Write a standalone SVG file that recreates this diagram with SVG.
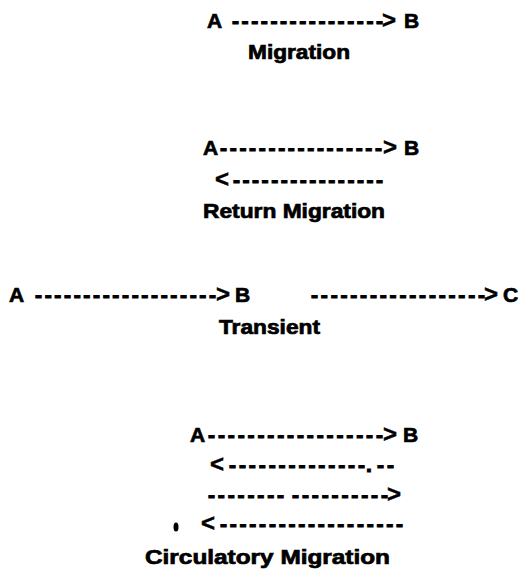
<svg xmlns="http://www.w3.org/2000/svg" width="532" height="570" viewBox="0 0 532 570">
<style>
text{font-family:"Liberation Sans",Arial,Helvetica,sans-serif;font-weight:bold;font-size:20px;fill:#000;stroke:#000;stroke-width:0.7px}
.l{font-size:21px}
.a{font-size:24px;stroke-width:0.5px}
.d{stroke-width:1.1px}
</style>
<rect width="532" height="570" fill="#fff"/>
<g id="migration">
<text class="l" x="207" y="28">A</text>
<text class="l" x="404" y="28">B</text>
<text x="248" y="59" textLength="102" lengthAdjust="spacingAndGlyphs">Migration</text>
</g>
<g id="return-migration">
<text class="l" x="203" y="155">A</text>
<text class="l" x="404" y="155">B</text>
<text x="203" y="218" textLength="182" lengthAdjust="spacingAndGlyphs">Return Migration</text>
</g>
<g id="transient">
<text class="l" x="9" y="302">A</text>
<text class="l" x="235" y="302">B</text>
<text class="l" x="503" y="302">C</text>
<text x="219" y="334" textLength="101" lengthAdjust="spacingAndGlyphs">Transient</text>
</g>
<g id="circulatory-migration">
<text class="l" x="190" y="442">A</text>
<text class="l" x="403" y="442">B</text>
<text x="145" y="564" textLength="245" lengthAdjust="spacingAndGlyphs">Circulatory Migration</text>
<ellipse cx="176" cy="527" rx="2.5" ry="4.5" fill="#000"/>
</g>
<g id="connectors">
<text class="l d" x="232" y="28" textLength="151" lengthAdjust="spacing">----------------</text>
<text class="a" x="382" y="28">&gt;</text>
<text class="l d" x="220" y="155" textLength="162" lengthAdjust="spacing">-----------------</text>
<text class="a" x="383" y="155">&gt;</text>
<text class="a" x="215" y="187">&lt;</text>
<text class="l d" x="233" y="187" textLength="150" lengthAdjust="spacing">----------------</text>
<text class="l d" x="35" y="302" textLength="181" lengthAdjust="spacing">-------------------</text>
<text class="a" x="216" y="302">&gt;</text>
<text class="l d" x="311" y="302" textLength="174" lengthAdjust="spacing">------------------</text>
<text class="a" x="484" y="302">&gt;</text>
<text class="l d" x="208" y="442" textLength="175" lengthAdjust="spacing">------------------</text>
<text class="a" x="383" y="442">&gt;</text>
<text class="a" x="210" y="472">&lt;</text>
<text class="l d" x="229" y="472" textLength="136" lengthAdjust="spacing">--------------</text>
<text class="l d" x="366" y="472">.</text>
<text class="l d" x="377" y="472" textLength="17" lengthAdjust="spacing">--</text>
<text class="l d" x="208" y="502" textLength="76" lengthAdjust="spacing">--------</text>
<text class="l d" x="292" y="502" textLength="96" lengthAdjust="spacing">----------</text>
<text class="a" x="387" y="502">&gt;</text>
<text class="a" x="201" y="531">&lt;</text>
<text class="l d" x="220" y="531" textLength="183" lengthAdjust="spacing">-------------------</text>
</g>
</svg>
